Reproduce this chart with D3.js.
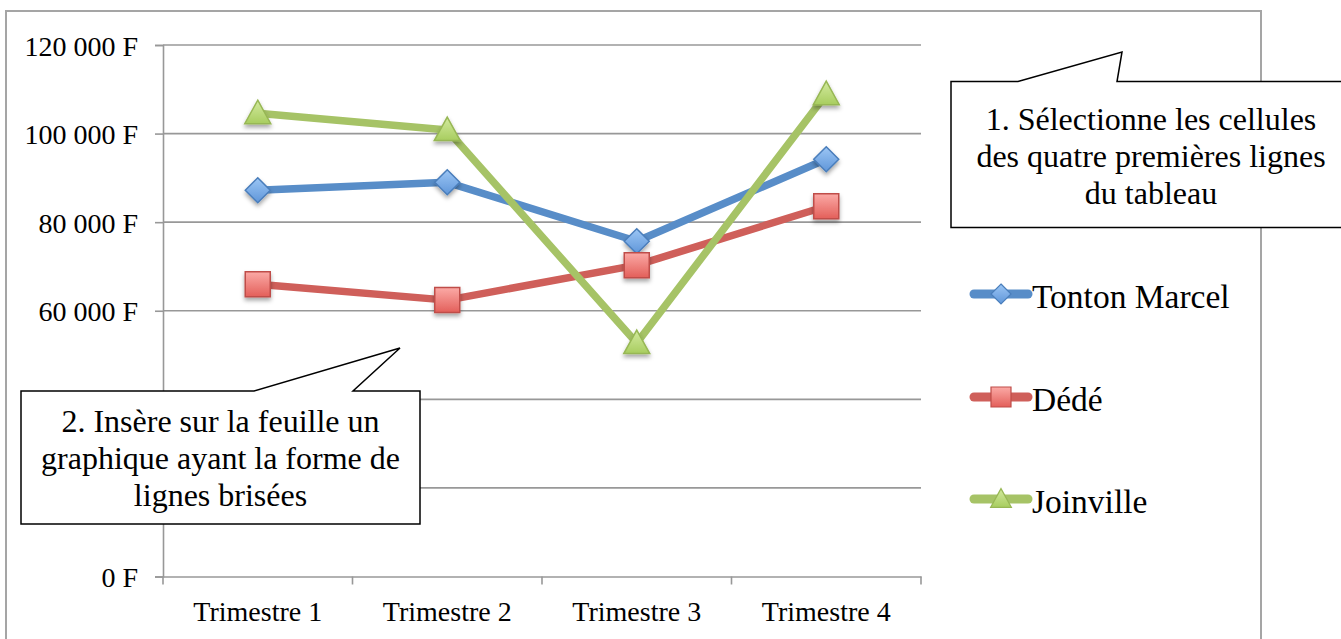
<!DOCTYPE html>
<html>
<head>
<meta charset="utf-8">
<script src="https://cdn.jsdelivr.net/npm/d3@7"></script>
<style>
  html, body { margin: 0; padding: 0; background: #fff; }
  svg { display: block; }
</style>
</head>
<body>
<svg id="chart" width="1341" height="639"></svg>
<script>
// ---- data ----
const categories = ["Trimestre 1", "Trimestre 2", "Trimestre 3", "Trimestre 4"];
const seriesNames = ["Tonton Marcel", "Dédé", "Joinville"];
const tontonMarcel = [87200, 89000, 75700, 94200];
const dede = [66000, 62400, 70300, 83600];
const joinville = [104600, 100800, 52700, 108900];
const yTicks = [0, 20000, 40000, 60000, 80000, 100000, 120000];
// tick labels hidden behind callout 2 in the original
const hiddenTickLabels = [20000, 40000];
const callout1Lines = ["1. Sélectionne les cellules", "des quatre premières lignes", "du tableau"];
const callout2Lines = ["2. Insère sur la feuille un", "graphique ayant la forme de", "lignes brisées"];

const seriesValues = [tontonMarcel, dede, joinville];
const styles = [
  { line: "#588dc8", stroke: "#4a7ebb", g1: "#9cc6f5", g2: "#5f96d9", shape: "diamond" },
  { line: "#cf5f5a", stroke: "#bf4d49", g1: "#fbaaa6", g2: "#e35f5a", shape: "square" },
  { line: "#a6c366", stroke: "#97b754", g1: "#d3ea9f", g2: "#a8cd5f", shape: "triangle" }
];

const svg = d3.select("#chart");
const serif = "'Liberation Serif', 'Times New Roman', serif";

// defs
const defs = svg.append("defs");
styles.forEach((s, i) => {
  const lg = defs.append("linearGradient").attr("id", "grad" + i)
    .attr("x1", 0).attr("y1", 0).attr("x2", 0).attr("y2", 1);
  lg.append("stop").attr("offset", "0%").attr("stop-color", s.g1);
  lg.append("stop").attr("offset", "100%").attr("stop-color", s.g2);
});
const f = defs.append("filter").attr("id", "shadow").attr("x", "-50%").attr("y", "-50%").attr("width", "200%").attr("height", "200%");
f.append("feDropShadow").attr("dx", 0).attr("dy", 3).attr("stdDeviation", 2).attr("flood-color", "#000").attr("flood-opacity", 0.35);

// outer frame
svg.append("rect").attr("x", 6).attr("y", 11).attr("width", 1255).attr("height", 660)
  .attr("fill", "#fff").attr("stroke", "#a5a5a5").attr("stroke-width", 2);

// scales
const plot = { left: 163, right: 921, top: 45, bottom: 576.5 };
const x = d3.scaleBand().domain(categories).range([plot.left, plot.right]);
const y = d3.scaleLinear().domain([0, 120000]).range([plot.bottom, plot.top]);
const cx = c => x(c) + x.bandwidth() / 2;

const gridColor = "#989898";

// gridlines
svg.append("g").selectAll("line").data(yTicks.filter(t => t > 0)).join("line")
  .attr("x1", plot.left).attr("x2", plot.right)
  .attr("y1", d => y(d)).attr("y2", d => y(d))
  .attr("stroke", gridColor).attr("stroke-width", 1.6);

// y axis
const fmt = v => hiddenTickLabels.includes(v) ? "" : d3.format(",")(v).replace(/,/g, " ") + " F";
const yAxis = d3.axisLeft(y).tickValues(yTicks).tickFormat(fmt).tickSize(8).tickPadding(17);
const gy = svg.append("g").attr("transform", `translate(${plot.left},0)`).call(yAxis);
gy.select(".domain").attr("stroke", gridColor).attr("stroke-width", 1.6);
gy.selectAll(".tick line").attr("stroke", gridColor).attr("stroke-width", 1.6);
gy.selectAll(".tick text").attr("font-family", serif).attr("font-size", 28).attr("fill", "#000")
  .attr("dy", "0.36em");

// x axis
const xAxis = d3.axisBottom(x).tickSize(0).tickPadding(0);
const gx = svg.append("g").attr("transform", `translate(0,${plot.bottom})`).call(xAxis);
gx.select(".domain").attr("stroke", gridColor).attr("stroke-width", 1.6);
gx.selectAll(".tick text").attr("font-family", serif).attr("font-size", 28).attr("fill", "#000")
  .attr("y", 44).attr("dy", 0);
// boundary tick marks
const bounds = categories.map(c => x(c)).concat([x(categories[categories.length - 1]) + x.bandwidth()]);
svg.append("g").selectAll("line").data(bounds).join("line")
  .attr("x1", d => d).attr("x2", d => d)
  .attr("y1", plot.bottom).attr("y2", plot.bottom + 8)
  .attr("stroke", gridColor).attr("stroke-width", 1.6);

// lines
const lineGen = d3.line().x((d, i) => cx(categories[i])).y(d => y(d));
seriesValues.forEach((vals, si) => {
  svg.append("path").datum(vals).attr("d", lineGen)
    .attr("fill", "none").attr("stroke", styles[si].line).attr("stroke-width", 7.5)
    .attr("stroke-linejoin", "round").attr("stroke-linecap", "round");
});

function markerPath(shape) {
  if (shape === "diamond") return "M0,-12.5L12.5,0L0,12.5L-12.5,0Z";
  if (shape === "square") return "M-12.5,-12.5H12.5V12.5H-12.5Z";
  return "M0,-13L13,10.5H-13Z";
}
function drawMarker(g, px, py, si) {
  g.append("path").attr("d", markerPath(styles[si].shape))
    .attr("transform", `translate(${px},${py})`)
    .attr("fill", `url(#grad${si})`).attr("stroke", styles[si].stroke).attr("stroke-width", 1.5)
    .attr("filter", "url(#shadow)");
}
// markers
const mg = svg.append("g");
seriesValues.forEach((vals, si) => {
  vals.forEach((v, i) => drawMarker(mg, cx(categories[i]), y(v), si));
});

// legend
const legendX = 971, legendYs = [294, 397, 499];
seriesNames.forEach((name, si) => {
  const ly = legendYs[si];
  svg.append("line").attr("x1", legendX + 3).attr("x2", legendX + 57).attr("y1", ly).attr("y2", ly)
    .attr("stroke", styles[si].line).attr("stroke-width", 9).attr("stroke-linecap", "round");
  const g = svg.append("g");
  g.append("path").attr("d", markerPath(styles[si].shape))
    .attr("transform", `translate(${legendX + 30},${ly}) scale(0.8)`)
    .attr("fill", `url(#grad${si})`).attr("stroke", styles[si].stroke).attr("stroke-width", 1.5);
  svg.append("text").attr("x", legendX + 61).attr("y", ly + 14)
    .attr("font-family", serif).attr("font-size", 33.5).attr("fill", "#000").text(name);
});

// callouts
function callout(pathD, lines, cxText, firstBaseline) {
  svg.append("path").attr("d", pathD).attr("fill", "#fff").attr("stroke", "#000").attr("stroke-width", 1.5);
  const t = svg.append("text").attr("font-family", serif).attr("font-size", 32)
    .attr("fill", "#000").attr("text-anchor", "middle");
  lines.forEach((l, i) => t.append("tspan").attr("x", cxText).attr("y", firstBaseline + i * 37).text(l));
}
callout("M951,81.5L1018,81.5L1122,52L1117,81.5L1352,81.5L1352,227.5L951,227.5Z",
  callout1Lines, 1151, 130);
callout("M21,391L254,391L400,348L353,391L420,391L420,524L21,524Z",
  callout2Lines, 220.5, 432);
</script>
</body>
</html>
